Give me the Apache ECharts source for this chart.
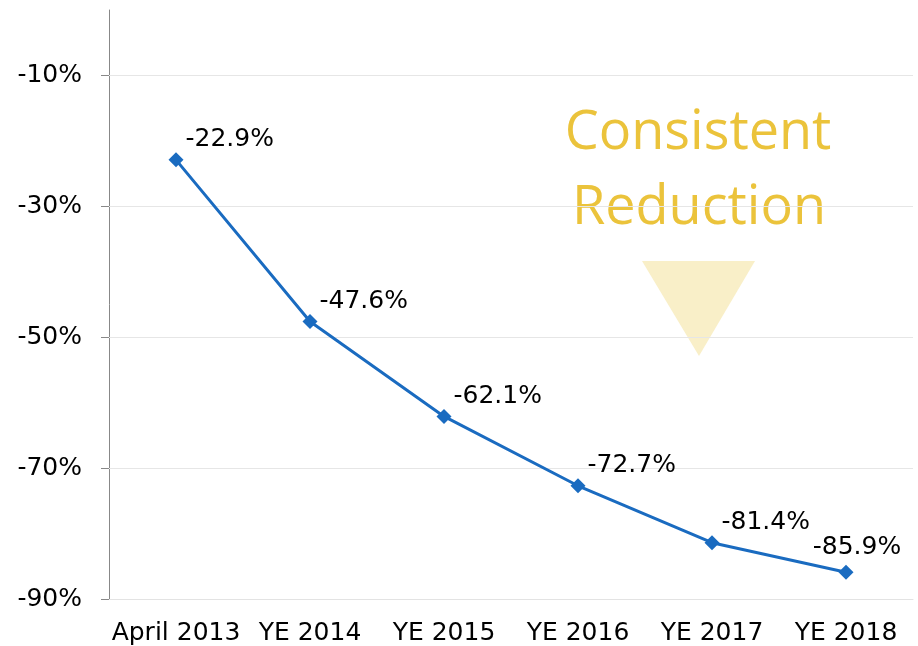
<!DOCTYPE html>
<html>
<head>
<meta charset="utf-8">
<script src="https://cdn.jsdelivr.net/npm/echarts@6/dist/echarts.min.js"></script>
<style>html,body{margin:0;padding:0;background:#fff}#c{width:918px;height:646px}</style>
</head>
<body>
<div id="c"></div>
<script>
const categories = ['April 2013', 'YE 2014', 'YE 2015', 'YE 2016', 'YE 2017', 'YE 2018'];
const values = [-22.9, -47.6, -62.1, -72.7, -81.4, -85.9];
const yTicks = [-90, -70, -50, -30, -10];
const annotation = ['Consistent', 'Reduction'];

const FONT = 'DejaVu Sans';
const grid = '#e6e6e6';
const chart = echarts.init(document.getElementById('c'), null, {renderer: 'canvas'});
const seriesData = values.map((v, i) => i === values.length - 1
  ? {value: v, label: {position: 'top', distance: 5, offset: [11, 0]}}
  : v);
chart.setOption({
  animation: false,
  grid: {left: 109, right: 5, top: 10, bottom: 46},
  xAxis: {
    type: 'category',
    data: categories,
    boundaryGap: true,
    axisLine: {onZero: false, lineStyle: {color: '#e3e3e3', width: 1}},
    axisTick: {show: false},
    axisLabel: {color: '#000', fontFamily: FONT, fontSize: 25, margin: 22, interval: 0}
  },
  yAxis: {
    type: 'value',
    min: -90,
    max: 0,
    axisLine: {show: true, lineStyle: {color: '#888', width: 1}},
    axisTick: {show: true, length: 8, customValues: yTicks, lineStyle: {color: '#888'}},
    axisLabel: {
      customValues: yTicks,
      color: '#000', fontFamily: FONT, fontSize: 25, margin: 27,
      formatter: v => v + '%'
    },
    splitLine: {show: false}
  },
  series: [{
    type: 'line',
    data: seriesData,
    symbol: 'diamond',
    symbolSize: 15,
    z: 3,
    lineStyle: {color: '#1a6bc0', width: 3},
    itemStyle: {color: '#1a6bc0'},
    label: {
      show: true,
      position: 'right',
      distance: 2,
      offset: [0, -20],
      color: '#000',
      fontFamily: FONT,
      fontSize: 25,
      formatter: p => p.value.toFixed(1) + '%'
    },
    markLine: {
      silent: true,
      symbol: ['none', 'none'],
      label: {show: false},
      lineStyle: {color: grid, type: 'solid', width: 1},
      z: 1,
      data: yTicks.filter(v => v > -90).map(v => ({yAxis: v}))
    }
  }],
  graphic: [
    {type: 'polygon', shape: {points: [[642, 261], [755, 261], [699, 356]]},
     style: {fill: 'rgba(240,212,110,0.38)'}, z: 1},
    {type: 'text', x: 698, y: 134, style: {text: annotation[0], fill: '#ebc33b', font: '54px "Open Sans"', align: 'center', verticalAlign: 'middle'}},
    {type: 'text', x: 699, y: 209, style: {text: annotation[1], fill: '#ebc33b', font: '54px "Open Sans"', align: 'center', verticalAlign: 'middle'}}
  ]
});
</script>
</body>
</html>
